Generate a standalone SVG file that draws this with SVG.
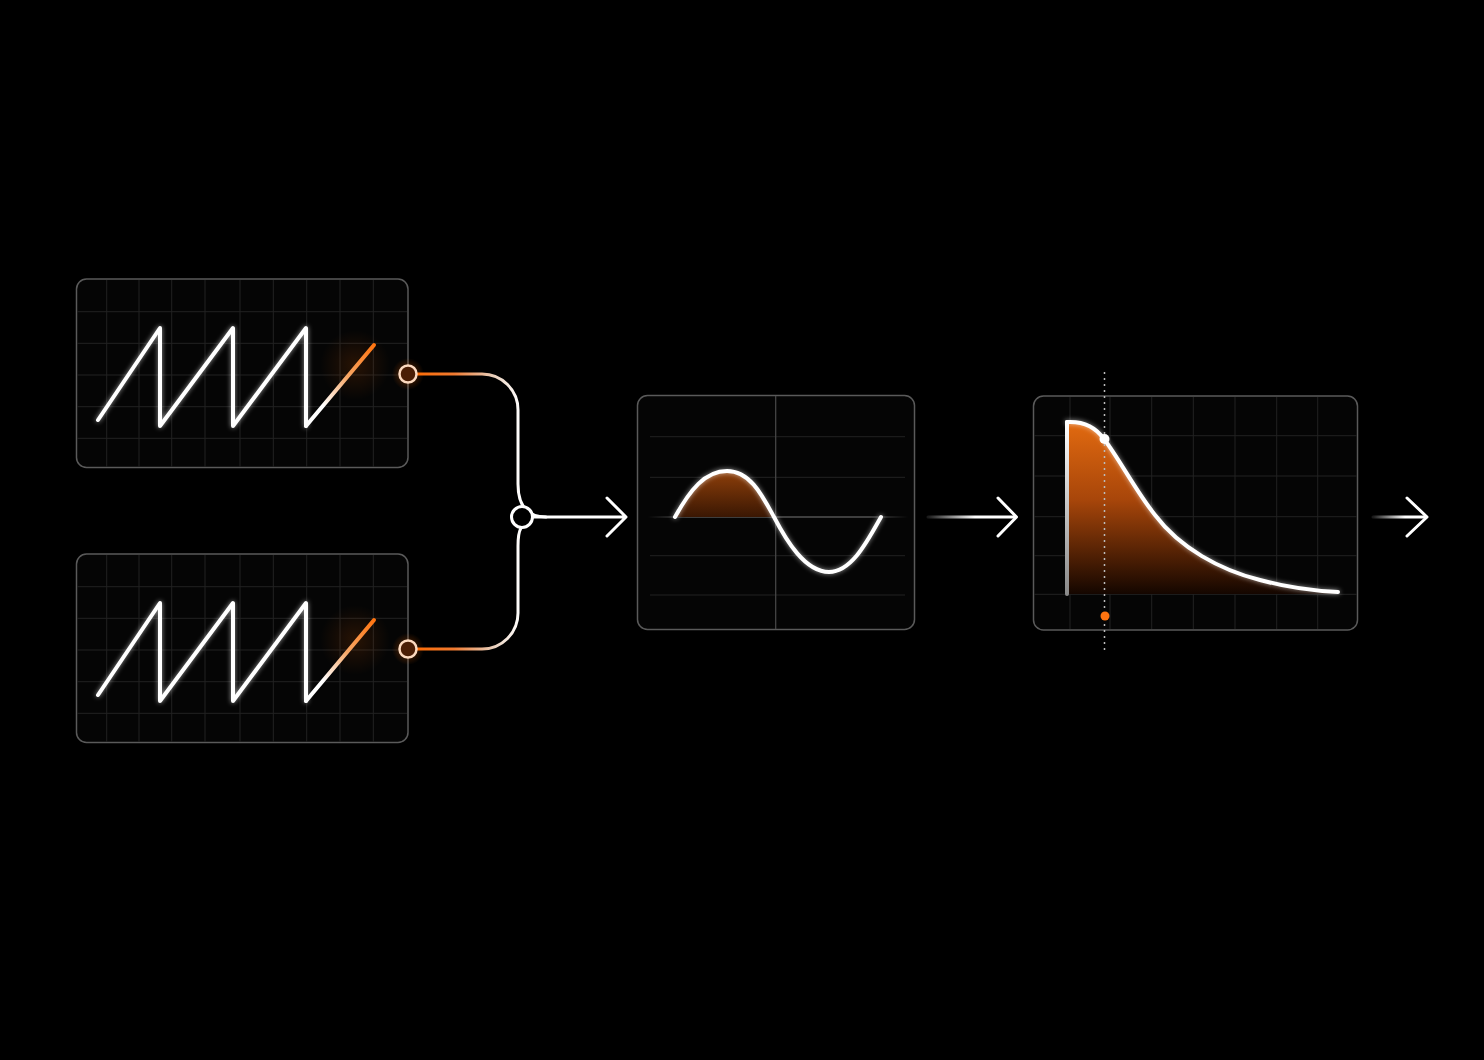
<svg xmlns="http://www.w3.org/2000/svg" width="1484" height="1060" viewBox="0 0 1484 1060">
<style>
.panel{fill:#050505;stroke:#5a5a5a;stroke-width:1.5}
.grid{stroke:#222;stroke-width:1;fill:none}
.wave{fill:none;stroke-width:4;stroke-linecap:round;stroke-linejoin:round}
.conn{fill:none;stroke-width:3;stroke-linecap:round;stroke-linejoin:round}
</style>
<defs>
<filter id="glow" x="-20%" y="-20%" width="140%" height="140%">
<feGaussianBlur in="SourceGraphic" stdDeviation="2.5" result="b"/>
<feComponentTransfer in="b" result="c"><feFuncA type="linear" slope="0.6"/></feComponentTransfer>
<feMerge><feMergeNode in="c"/><feMergeNode in="SourceGraphic"/></feMerge>
</filter>
<radialGradient id="oglow">
<stop offset="0" stop-color="#ff6a00" stop-opacity="0.4"/>
<stop offset="1" stop-color="#ff6a00" stop-opacity="0"/>
</radialGradient>
<linearGradient id="sawEnd1" gradientUnits="userSpaceOnUse" x1="306" y1="426" x2="374" y2="345">
<stop offset="0" stop-color="#fff"/><stop offset="0.25" stop-color="#fff"/><stop offset="0.6" stop-color="#f7a868"/><stop offset="1" stop-color="#ff7410"/>
</linearGradient>
<linearGradient id="sawEnd2" gradientUnits="userSpaceOnUse" x1="306" y1="701" x2="374" y2="620">
<stop offset="0" stop-color="#fff"/><stop offset="0.25" stop-color="#fff"/><stop offset="0.6" stop-color="#f7a868"/><stop offset="1" stop-color="#ff7410"/>
</linearGradient>
<linearGradient id="connG" gradientUnits="userSpaceOnUse" x1="410" y1="0" x2="520" y2="0">
<stop offset="0" stop-color="#ff6a00"/><stop offset="0.4" stop-color="#f07a30"/><stop offset="0.75" stop-color="#e8cdb8"/><stop offset="1" stop-color="#fff"/>
</linearGradient>
<linearGradient id="fadeIn1" gradientUnits="userSpaceOnUse" x1="928" y1="0" x2="975" y2="0">
<stop offset="0" stop-color="#fff" stop-opacity="0.1"/><stop offset="1" stop-color="#fff"/>
</linearGradient>
<linearGradient id="fadeIn2" gradientUnits="userSpaceOnUse" x1="1373" y1="0" x2="1405" y2="0">
<stop offset="0" stop-color="#fff" stop-opacity="0.1"/><stop offset="1" stop-color="#fff"/>
</linearGradient>
<linearGradient id="axisG" gradientUnits="userSpaceOnUse" x1="648" y1="0" x2="908" y2="0">
<stop offset="0" stop-color="#777" stop-opacity="0"/><stop offset="0.15" stop-color="#777"/><stop offset="0.85" stop-color="#777"/><stop offset="1" stop-color="#777" stop-opacity="0"/>
</linearGradient>
<linearGradient id="humpG" x1="0" y1="0" x2="0" y2="1">
<stop offset="0" stop-color="#8e3f0a"/><stop offset="1" stop-color="#3a1703"/>
</linearGradient>
<linearGradient id="decayG" gradientUnits="userSpaceOnUse" x1="0" y1="422" x2="0" y2="594">
<stop offset="0" stop-color="#e26a10"/><stop offset="0.45" stop-color="#a8460a"/><stop offset="1" stop-color="#140600"/>
</linearGradient>
<linearGradient id="vertG" gradientUnits="userSpaceOnUse" x1="0" y1="422" x2="0" y2="594">
<stop offset="0" stop-color="#fff"/><stop offset="1" stop-color="#8a8a8a"/>
</linearGradient>
</defs>
<rect width="1484" height="1060" fill="#000"/>

<g id="osc1">
<rect class="panel" x="76.5" y="279" width="331.5" height="188.5" rx="10"/>
<path class="grid" d="M106.7 280V467M139 280V467M171.7 280V467M205 280V467M240 280V467M273.3 280V467M306.7 280V467M340 280V467M373.3 280V467M77 311.7H407M77 343.3H407M77 375H407M77 406.7H407M77 438.3H407"/>
<circle cx="355" cy="365" r="35" fill="url(#oglow)" opacity="0.35"/>
<path class="wave" stroke="#fff" filter="url(#glow)" d="M98 420L160 328V426L233 328V426L306 328V426"/>
<path class="wave" stroke="url(#sawEnd1)" d="M306 426L374 345"/>
</g>

<g id="osc2">
<rect class="panel" x="76.5" y="554" width="331.5" height="188.5" rx="10"/>
<path class="grid" d="M106.7 555V742M139 555V742M171.7 555V742M205 555V742M240 555V742M273.3 555V742M306.7 555V742M340 555V742M373.3 555V742M77 586.7H407M77 618.3H407M77 650H407M77 681.7H407M77 713.3H407"/>
<circle cx="355" cy="640" r="35" fill="url(#oglow)" opacity="0.35"/>
<path class="wave" stroke="#fff" filter="url(#glow)" d="M98 695L160 603V701L233 603V701L306 603V701"/>
<path class="wave" stroke="url(#sawEnd2)" d="M306 701L374 620"/>
</g>

<g id="connectors">
<path class="conn" stroke="url(#connG)" d="M416 374H482A36 36 0 0 1 518 410V484Q518 517 546 517"/>
<path class="conn" stroke="url(#connG)" d="M521 528Q518 533 518 546V613A36 36 0 0 1 482 649H416"/>
<path class="conn" stroke="#fff" d="M533 517H625M607 498L626 517L607 536"/>
<path class="conn" stroke="url(#fadeIn1)" stroke-width="3.5" d="M928 517H1015"/>
<path class="conn" stroke="#fff" stroke-width="3.5" d="M998 498L1016.5 517L998 536"/>
<path class="conn" stroke="url(#fadeIn2)" stroke-width="3.5" d="M1373 517H1426"/>
<path class="conn" stroke="#fff" stroke-width="3.5" d="M1407 498L1427 517L1407 536"/>
</g>

<g id="port1">
<circle cx="408" cy="374" r="16" fill="url(#oglow)"/>
<circle cx="408" cy="374" r="8.5" fill="#4a1e05" stroke="#fbd9bf" stroke-width="2.5"/>
</g>
<g id="port2">
<circle cx="408" cy="649" r="16" fill="url(#oglow)"/>
<circle cx="408" cy="649" r="8.5" fill="#4a1e05" stroke="#fbd9bf" stroke-width="2.5"/>
</g>
<g id="junction">
<circle cx="522" cy="517" r="10.5" fill="#000" stroke="#fff" stroke-width="3"/>
</g>

<g id="sine">
<rect class="panel" x="637.5" y="395.5" width="277" height="234" rx="10" stroke="#6e6e6e"/>
<path class="grid" d="M650 436.7H905M650 477.3H905M650 555.7H905M650 595H905" stroke="#161616"/>
<path d="M775.7 396V629" stroke="#4a4a4a" stroke-width="1.2"/>
<path d="M648 517H908" stroke="url(#axisG)" stroke-width="1.2"/>
<path d="M675 517C690 490 705 471 727 471C750 471 762 495 774 517Z" fill="url(#humpG)"/>
<path class="wave" stroke="#fff" filter="url(#glow)" d="M675 517C690 490 705 471 727 471C750 471 762 495 774 517C786 540 805 572 829 572C852 572 868 540 881 517"/>
</g>

<g id="envelope">
<rect class="panel" x="1033.5" y="396" width="324" height="234" rx="10" stroke="#3c3c3c"/>
<path class="grid" d="M1070 397V629M1110 397V629M1151.7 397V629M1193.3 397V629M1235 397V629M1276.7 397V629M1317.7 397V629M1034 435.7H1357M1034 476H1357M1034 516.7H1357M1034 555.7H1357M1034 594.3H1357"/>
<path d="M1067 594V422C1085 421 1097 429 1104 439C1120 460 1135 490 1155 515C1180 548 1220 570 1260 580C1290 588 1315 591 1338 592V594Z" fill="url(#decayG)"/>
<path d="M1067 594V422" fill="none" stroke="url(#vertG)" stroke-width="4" stroke-linecap="round"/>
<path class="wave" stroke="#fff" filter="url(#glow)" d="M1067 422C1085 421 1097 429 1104 439C1120 460 1135 490 1155 515C1180 548 1220 570 1260 580C1290 588 1315 591 1338 592"/>
<path d="M1104.5 372V652" stroke="#bbb" stroke-width="1.5" stroke-dasharray="2 4"/>
<circle cx="1104.5" cy="439" r="5" fill="#fff"/>
<circle cx="1105" cy="616" r="4.5" fill="#ff7410"/>
</g>
</svg>
